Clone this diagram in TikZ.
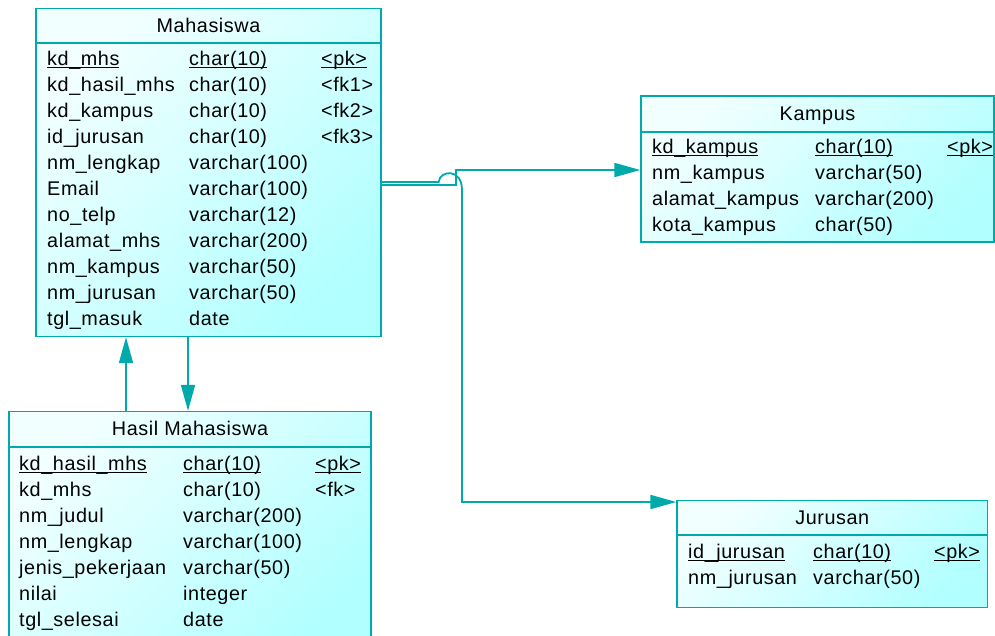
\documentclass[tikz,border=0pt]{standalone}
\usepackage{fontspec}
\setmainfont{Liberation Sans}[LetterSpace=3]
\usetikzlibrary{arrows.meta,calc}
\definecolor{tealline}{RGB}{0,170,170}
\definecolor{boxlight}{RGB}{242,255,255}
\definecolor{boxdark}{RGB}{178,255,255}
\newcommand\ulx[1]{\setbox0\hbox{#1}\rlap{\rule[-3.4pt]{\wd0}{1.1pt}}\box0}
\begin{document}
\begin{tikzpicture}[x=1pt,y=-1pt,
  tbl/.style={draw=tealline, line width=1.4pt, rectangle, inner sep=0pt, top color=boxlight, bottom color=boxdark, shading angle=45},
  sepline/.style={draw=tealline, line width=1.4pt},
  fld/.style={anchor=base west, inner sep=0pt, font=\fontsize{19.8}{22}\selectfont, text=black},
  ttl/.style={anchor=base, inner sep=0pt, font=\fontsize{19.8}{22}\selectfont, text=black},
  conn/.style={draw=tealline, line width=1.8pt},
  arr/.style={conn, -{Triangle[length=26pt,width=14pt]}},
]
\useasboundingbox (0,0) rectangle (995,635);

% ---------- tables ----------
\node[tbl, minimum width=345pt, minimum height=328pt] (mhs) at (208.5,172.5) {};
\draw[sepline] (mhs.west |- 0,43) -- (mhs.east |- 0,43);
\node[ttl] (mhsT) at (208.5,32) {Mahasiswa};

\node[tbl, minimum width=353pt, minimum height=146pt] (kam) at (817.5,169) {};
\draw[sepline] (kam.west |- 0,132) -- (kam.east |- 0,132);
\node[ttl] (kamT) at (817.5,120) {Kampus};

\node[tbl, minimum width=362pt, minimum height=240pt] (has) at (190,531.5) {};
\draw[sepline] (has.west |- 0,447) -- (has.east |- 0,447);
\node[ttl] (hasT) at (190,435) {Hasil Mahasiswa};

\node[tbl, minimum width=310.5pt, minimum height=107pt] (jur) at (832.25,554.2) {};
\draw[sepline] (jur.west |- 0,535) -- (jur.east |- 0,535);
\node[ttl] (jurT) at (832.25,524) {Jurusan};

% ---------- fields ----------
\foreach \i/\a/\b/\c in {
  0/\ulx{kd\_mhs}/\ulx{char(10)}/\ulx{<pk>},
  1/kd\_hasil\_mhs/char(10)/<fk1>,
  2/kd\_kampus/char(10)/<fk2>,
  3/id\_jurusan/char(10)/<fk3>,
  4/nm\_lengkap/varchar(100)/,
  5/Email/varchar(100)/,
  6/no\_telp/varchar(12)/,
  7/alamat\_mhs/varchar(200)/,
  8/nm\_kampus/varchar(50)/,
  9/nm\_jurusan/varchar(50)/,
  10/tgl\_masuk/date/}{
  \node[fld] (m\i a) at (47,{65+26*\i}) {\a};
  \node[fld] (m\i b) at (189,{65+26*\i}) {\b};
  \node[fld] (m\i c) at (321,{65+26*\i}) {\c};
}

\foreach \i/\a/\b/\c in {
  0/\ulx{kd\_kampus}/\ulx{char(10)}/\ulx{<pk>},
  1/nm\_kampus/varchar(50)/,
  2/alamat\_kampus/varchar(200)/,
  3/kota\_kampus/char(50)/}{
  \node[fld] (k\i a) at (652,{153+26*\i}) {\a};
  \node[fld] (k\i b) at (815,{153+26*\i}) {\b};
  \node[fld] (k\i c) at (947,{153+26*\i}) {\c};
}

\foreach \i/\a/\b/\c in {
  0/\ulx{kd\_hasil\_mhs}/\ulx{char(10)}/\ulx{<pk>},
  1/kd\_mhs/char(10)/<fk>,
  2/nm\_judul/varchar(200)/,
  3/nm\_lengkap/varchar(100)/,
  4/jenis\_pekerjaan/varchar(50)/,
  5/nilai/integer/,
  6/tgl\_selesai/date/}{
  \node[fld] (h\i a) at (19,{470+26*\i}) {\a};
  \node[fld] (h\i b) at (183,{470+26*\i}) {\b};
  \node[fld] (h\i c) at (315,{470+26*\i}) {\c};
}

\foreach \i/\a/\b/\c in {
  0/\ulx{id\_jurusan}/\ulx{char(10)}/\ulx{<pk>},
  1/nm\_jurusan/varchar(50)/}{
  \node[fld] (j\i a) at (688,{558+26*\i}) {\a};
  \node[fld] (j\i b) at (813,{558+26*\i}) {\b};
  \node[fld] (j\i c) at (934,{558+26*\i}) {\c};
}

% ---------- connectors ----------
\draw[arr] ([yshift=-12.5pt]mhs.east) -- ++(74,0) |- ([yshift=-1pt]kam.west);

\coordinate (hopA) at ([xshift=57pt,yshift=-9.5pt]mhs.east);
\coordinate (hopB) at (462,190);
\draw[arr] ([yshift=-9.5pt]mhs.east) -- (hopA)
  .. controls ([shift={(1pt,12pt)}]hopA) and (462,168) .. (hopB)
  |- ([yshift=-2pt]jur.north west);

\coordinate (ax) at (126,0);
\coordinate (bx) at (188,0);
\draw[arr] (has.north -| ax) -- (mhs.south -| ax);
\draw[arr] (mhs.south -| bx) -- (has.north -| bx);
\end{tikzpicture}
\end{document}
